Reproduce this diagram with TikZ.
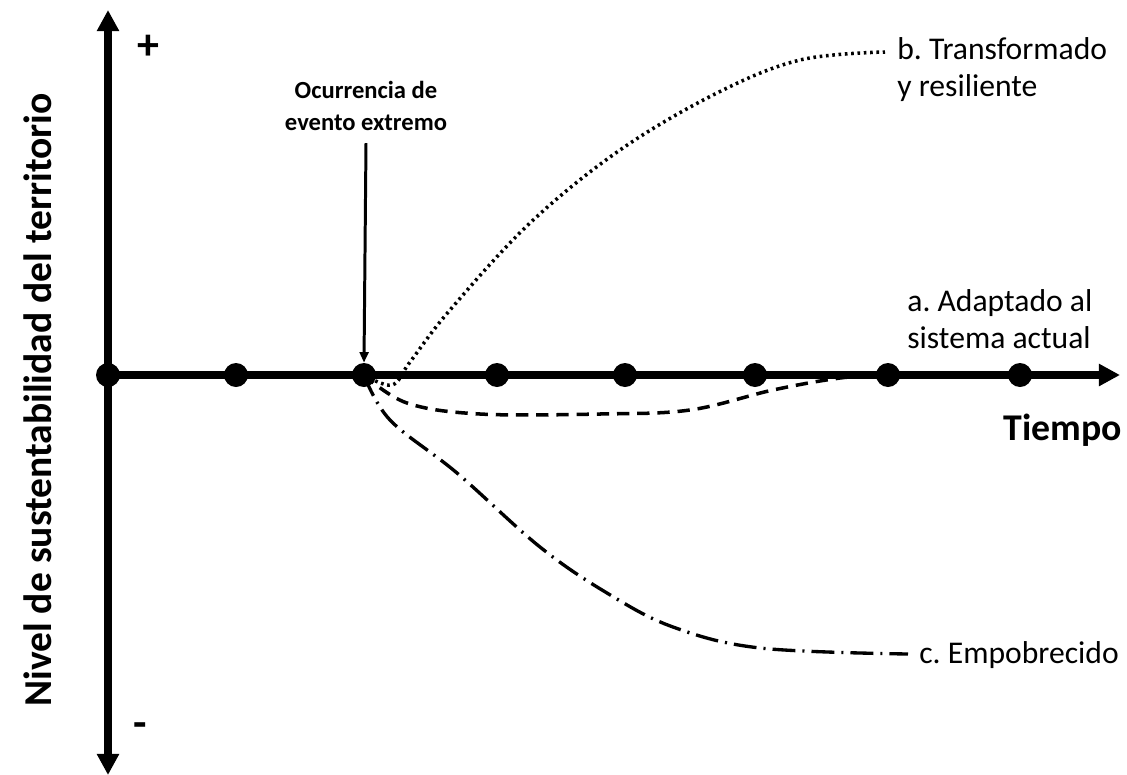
\documentclass[tikz,border=0pt]{standalone}
\usepackage{fontspec}
\setmainfont{Carlito}
\usepackage{tikz}
\usetikzlibrary{arrows.meta,calc,positioning}
\frenchspacing

\begin{document}
\begin{tikzpicture}[x=0.02cm,y=-0.02cm,
  axis/.style={line width=4.2pt,-{Triangle[length=12pt,width=12pt]}},
  tick/.style={circle,fill=black,inner sep=0pt,minimum size=0.48cm},
  lbl/.style={font=\fontsize{18}{21}\selectfont,align=left,inner sep=0pt,anchor=west},
  evarrow/.style={line width=1.7pt,-{Triangle[length=6pt,width=5pt]}},
  resil/.style={line width=2pt,dash pattern=on 1.5pt off 2.1pt},
  adapt/.style={line width=2pt,dash pattern=on 7pt off 4.5pt},
  empob/.style={line width=1.9pt,dash pattern=on 13pt off 4pt on 1.2pt off 4pt}]
  \useasboundingbox (0,0) rectangle (1127,775);
  % ejes
  \coordinate (o) at (108,375);
  \coordinate (top) at (108,10);
  \coordinate (bot) at (108,775);
  \coordinate (xend) at (1120,375);
  \draw[axis] (o) -- (top);
  \draw[axis] (o) -- (bot);
  \draw[axis] (o) -- (xend);
  % puntos en el tiempo
  \foreach \i/\x in {0/108,1/236,2/364,3/497,4/625,5/755,6/888,7/1020}
    \node[tick] (d\i) at (\x,375) {};
  % textos
  \node[font=\bfseries\fontsize{25}{25}\selectfont] (plus) at (148,47) {+};
  \node[font=\bfseries\fontsize{25}{25}\selectfont] (minus) at (140,730) {-};
  \node[rotate=90,font=\bfseries\fontsize{22.5}{22.5}\selectfont] (ylab) at (38,400) {Nivel de sustentabilidad del territorio};
  \node[font=\bfseries\fontsize{21.5}{21.5}\selectfont,anchor=west,inner sep=0pt] (tiempo) at (1003,430) {Tiempo};
  \node[font=\bfseries\fontsize{14}{18}\selectfont,align=center,inner sep=0pt] (ev) at (366,106) {Ocurrencia de\\evento extremo};
  \node[lbl] (lb) at (897,70) {b. Transformado\\y resiliente};
  \node[lbl] (la) at (907,319) {a. Adaptado al\\sistema actual};
  \node[lbl] (lc) at (919,655) {c. Empobrecido};
  \draw[evarrow] ([yshift=-7pt]ev.south) -- (d2.north);
  % trayectorias
  \coordinate (bend) at (885,52);
  \coordinate (cend) at (908,654);
  \draw[resil] plot[smooth,tension=0.6] coordinates {(d2.center) (392,385) (410,362) (450,310) (530,223) (620,150) (717,93) (800,60) (bend)};
  \draw[adapt] plot[smooth,tension=0.6] coordinates {(d2.center) (407,403) (480,414) (600,414) (690,410) (773,390) (840,378) (d6.center)};
  \draw[empob] plot[smooth,tension=0.6] coordinates {(d2.center) (390,420) (457,473) (540,547) (607,593) (673,627) (760,648) (cend)};
\end{tikzpicture}
\end{document}
